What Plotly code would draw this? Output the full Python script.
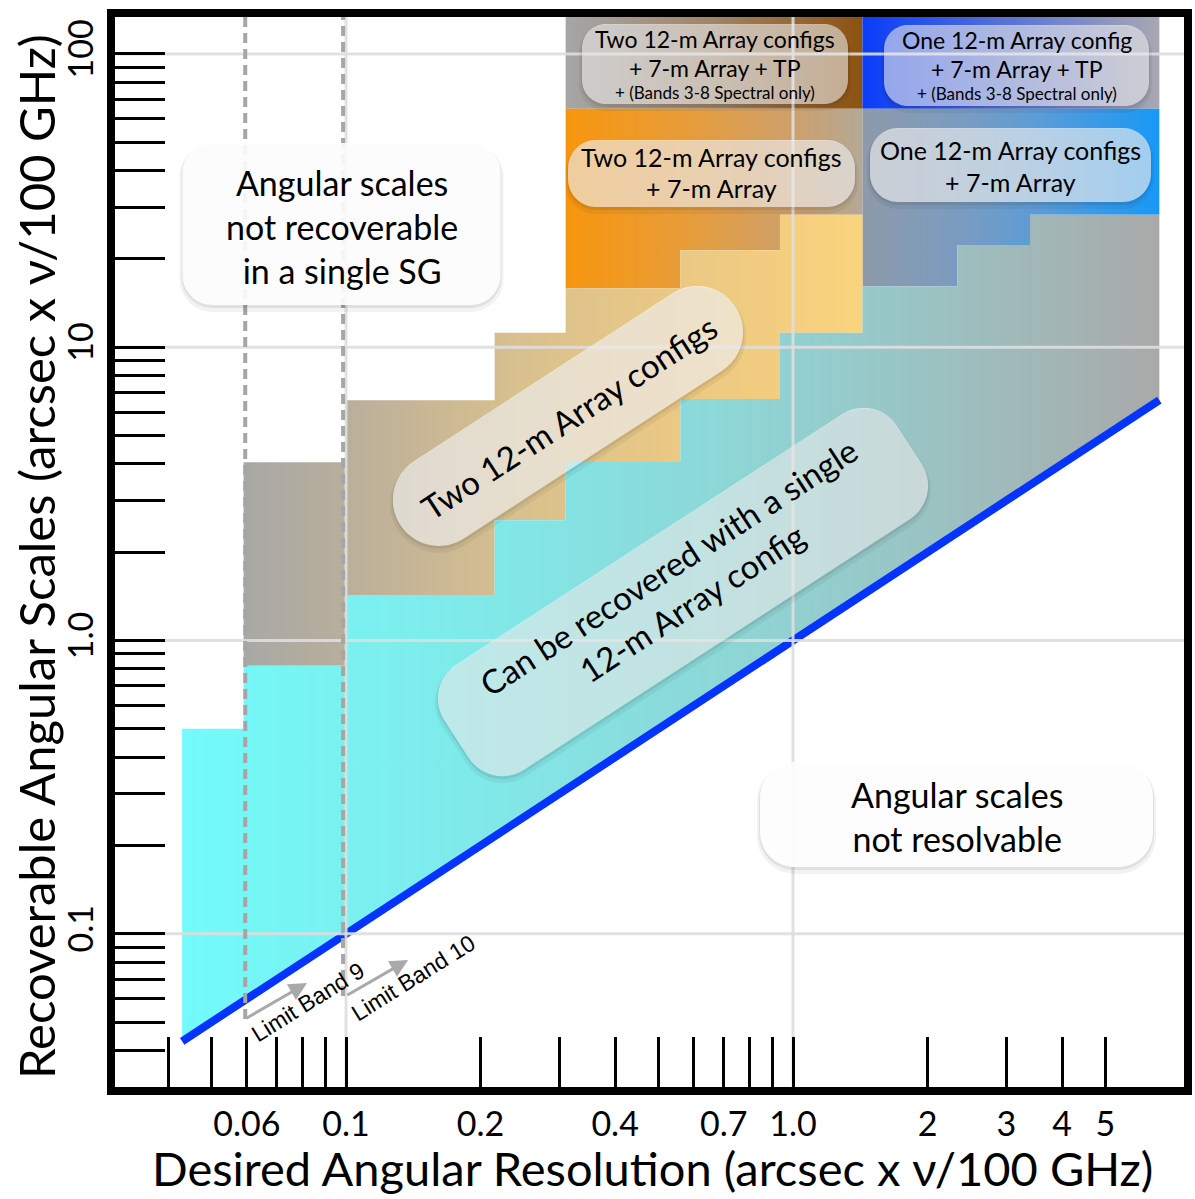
import numpy as np
import plotly.graph_objects as go

# ---------------- data ----------------
res_edges = [0.043, 0.059, 0.1, 0.215, 0.31, 0.56, 0.935, 1.43, 2.33, 3.39, 6.6]
mrs_single = [0.50, 0.82, 1.43, 2.57, 4.06, 6.66, 11.2, 16.1, 22.3, 28.3]
mrs_two = [4.05, 6.6, 11.2, 15.9, 21.4, 28.3]          # over res_edges[1:8]
mrs_7m_top = 65.0
mrs_tp_top = 200.0
limit_res = [0.043, 6.6]
limit_mrs = [0.043, 6.6]
band_limit_res = [0.0595, 0.0985]
band_limit_low = [0.0512, 0.0614]
arrow_tail_res = [0.0594, 0.100]
arrow_tail_mrs = [0.0512, 0.0614]
arrow_head_res = [0.0818, 0.1377]
arrow_head_mrs = [0.0679, 0.0814]
grid_x = [0.1, 1.0]
grid_y = [0.1, 1.0, 10.0, 100.0]
x_tickvals = [0.04, 0.05, 0.06, 0.07, 0.08, 0.09, 0.1, 0.2, 0.3, 0.4, 0.5, 0.6,
              0.7, 0.8, 0.9, 1.0, 2, 3, 4, 5]
x_ticktext = ['', '', '0.06', '', '', '', '0.1', '0.2', '', '0.4', '', '',
              '0.7', '', '', '1.0', '2', '3', '4', '5']
y_tickvals = [0.04, 0.05, 0.06, 0.07, 0.08, 0.09, 0.1, 0.2, 0.3, 0.4, 0.5, 0.6, 0.7,
              0.8, 0.9, 1, 2, 3, 4, 5, 6, 7, 8, 9, 10, 20, 30, 40, 50, 60, 70, 80, 90, 100]
y_ticktext = ['0.1' if v == 0.1 else '1.0' if v == 1 else '10' if v == 10
              else '100' if v == 100 else '' for v in y_tickvals]

# ---------------- layout geometry ----------------
W, H = 1195, 1199
ML, MR, MT, MB = 115, 11, 17, 112
PW, PH = W - ML - MR, H - MT - MB
XR = [-1.5168, 0.8747]
YR = [-1.5223, 2.1258]
FONT = "Lato"


def pp(px, py):
    return (px - ML) / PW, 1 - (py - MT) / PH


def step_line(edges, levels):
    xs, ys = [], []
    for i, v in enumerate(levels):
        xs += [edges[i], edges[i + 1]]
        ys += [v, v]
    return xs, ys


fig = go.Figure()


def region(xs, ys, cs):
    fig.add_trace(go.Scatter(x=xs, y=ys, mode='lines', fill='toself',
                             line=dict(width=0),
                             fillgradient=dict(type='horizontal', colorscale=cs),
                             hoverinfo='skip', showlegend=False))


# TP regions
e = res_edges[4:8]
region([e[0], e[-1], e[-1], e[0]], [mrs_7m_top, mrs_7m_top, mrs_tp_top, mrs_tp_top],
       [[0, '#A6A6A6'], [0.5, '#A08466'], [1, '#8C5210']])
e = res_edges[7:11]
region([e[0], e[-1], e[-1], e[0]], [mrs_7m_top, mrs_7m_top, mrs_tp_top, mrs_tp_top],
       [[0, '#0A3CF8'], [0.5, '#5A74D6'], [1, '#A8A8B2']])
# two 12-m + 7-m
e = res_edges[4:8]
bx, by = step_line(e, mrs_two[3:6])
region(bx + [e[-1], e[0]], by + [mrs_7m_top, mrs_7m_top],
       [[0, '#F7950E'], [0.4, '#E89C38'], [0.75, '#CFA06A'], [1, '#B4A896']])
# one 12-m + 7-m
e = res_edges[7:11]
bx, by = step_line(e, mrs_single[7:10])
region(bx + [e[-1], e[0]], by + [mrs_7m_top, mrs_7m_top],
       [[0, '#8E9AAA'], [0.35, '#789CC2'], [0.6, '#5A9CD8'], [1, '#1898F6']])
# two 12-m configs
e = res_edges[1:8]
bx, by = step_line(e, mrs_single[1:7])
tx, ty = step_line(e, mrs_two)
region(bx + tx[::-1], by + ty[::-1],
       [[0, '#A8A8A6'], [0.15, '#B7AE9C'], [0.3, '#C9B795'], [0.45, '#D8C18E'],
        [0.65, '#E7C786'], [0.85, '#F2CD80'], [1, '#FAD47C']])
# single 12-m config
sx, sy = step_line(res_edges, mrs_single)
region([limit_res[0], limit_res[1]] + sx[::-1], [limit_mrs[0], limit_mrs[1]] + sy[::-1],
       [[0, '#72FBFB'], [0.3, '#80E9E9'], [0.55, '#8DD7D7'], [0.72, '#98C7C7'],
        [0.88, '#A2B6B6'], [1, '#A9A9A9']])

# limit line
fig.add_trace(go.Scatter(x=limit_res, y=limit_mrs, mode='lines',
                         line=dict(color='#0533FF', width=8),
                         hoverinfo='skip', showlegend=False))
# grid lines
for gx in grid_x:
    fig.add_trace(go.Scatter(x=[gx, gx], y=[1e-3, 1e3], mode='lines',
                             line=dict(color='rgba(222,222,222,0.9)', width=3),
                             hoverinfo='skip', showlegend=False))
for gy in grid_y:
    fig.add_trace(go.Scatter(x=[1e-3, 1e3], y=[gy, gy], mode='lines',
                             line=dict(color='rgba(222,222,222,0.9)', width=3),
                             hoverinfo='skip', showlegend=False))
# band limit dashed lines
for bxv, lo in zip(band_limit_res, band_limit_low):
    fig.add_trace(go.Scatter(x=[bxv, bxv], y=[lo, mrs_tp_top], mode='lines',
                             line=dict(color='#A6A6A6', width=4, dash='10px,6px'),
                             hoverinfo='skip', showlegend=False))

# ---------------- rounded boxes ----------------
K = 0.5523


def rrect_path(cx, cy, w, h, r, ang=0.0, grow=0.0, dx=0.0, dy=0.0):
    w += 2 * grow
    h += 2 * grow
    r += grow
    a = np.deg2rad(ang)
    ca, sa = np.cos(a), np.sin(a)

    def T(u, v):
        X = cx + dx + u * ca + v * sa
        Y = cy + dy - u * sa + v * ca
        xp, yp = pp(X, Y)
        return f"{xp:.5f},{yp:.5f}"

    hw, hh = w / 2, h / 2
    k = K * r
    p = "M" + T(-hw + r, -hh)
    p += " L" + T(hw - r, -hh)
    p += " C" + T(hw - r + k, -hh) + " " + T(hw, -hh + r - k) + " " + T(hw, -hh + r)
    p += " L" + T(hw, hh - r)
    p += " C" + T(hw, hh - r + k) + " " + T(hw - r + k, hh) + " " + T(hw - r, hh)
    p += " L" + T(-hw + r, hh)
    p += " C" + T(-hw + r - k, hh) + " " + T(-hw, hh - r + k) + " " + T(-hw, hh - r)
    p += " L" + T(-hw, -hh + r)
    p += " C" + T(-hw, -hh + r - k) + " " + T(-hw + r - k, -hh) + " " + T(-hw + r, -hh)
    p += " Z"
    return p


boxes = [
    # cx, cy, w, h, r, angle, alpha
    (341.5, 224, 318, 162, 30, 0, 0.90),
    (956.5, 814.5, 393, 105, 35, 0, 0.92),
    (715, 64, 266, 80, 24, 0, 0.55),
    (1016.5, 65.5, 265, 81, 24, 0, 0.55),
    (711.5, 173.5, 287, 67, 28, 0, 0.60),
    (1010.5, 165, 281, 74, 28, 0, 0.60),
    (568, 416, 400, 92, 46, 33, 0.62),
    (683, 592, 540, 125, 40, 33, 0.55),
]
shapes = []
for cx, cy, w, h, r, ang, al in boxes:
    shapes.append(dict(type='path', xref='paper', yref='paper', layer='above',
                       path=rrect_path(cx, cy, w, h, r, ang, grow=3, dy=4),
                       fillcolor='rgba(0,0,0,0.05)', line=dict(width=0)))
    shapes.append(dict(type='path', xref='paper', yref='paper', layer='above',
                       path=rrect_path(cx, cy, w, h, r, ang, grow=1, dy=2),
                       fillcolor='rgba(0,0,0,0.07)', line=dict(width=0)))
    shapes.append(dict(type='path', xref='paper', yref='paper', layer='above',
                       path=rrect_path(cx, cy, w, h, r, ang),
                       fillcolor=f'rgba(255,255,255,{al})', line=dict(width=0)))

annotations = []


def txt(px, py, text, size, angle=0, family=FONT):
    xp, yp = pp(px, py)
    annotations.append(dict(x=xp, y=yp, xref='paper', yref='paper', text=text,
                            showarrow=False, textangle=angle, xanchor='center',
                            yanchor='middle', font=dict(family=family, size=size,
                                                        color='black')))


txt(341.5, 226, "Angular scales<br>not recoverable<br>in a single SG", 34)
txt(956.5, 816, "Angular scales<br>not resolvable", 34)
txt(715, 39, "Two 12-m Array configs", 23)
txt(715, 68, "+ 7-m Array + TP", 23)
txt(715, 93, "+ (Bands 3-8 Spectral only)", 17)
txt(1017, 40, "One 12-m Array config", 23)
txt(1017, 69, "+ 7-m Array + TP", 23)
txt(1017, 94, "+ (Bands 3-8 Spectral only)", 17)
txt(711, 157, "Two 12-m Array configs", 25)
txt(711, 188, "+ 7-m Array", 25)
txt(1010, 150, "One 12-m Array configs", 25)
txt(1010, 182, "+ 7-m Array", 25)
txt(569, 417, "Two 12-m Array configs", 33, angle=-33)
txt(680, 584, "Can be recovered with a single<br>12-m Array config", 33, angle=-33)
txt(308, 1002, "Limit Band 9", 23, angle=-32, family="Liberation Sans")
txt(413, 978, "Limit Band 10", 23, angle=-32, family="Liberation Sans")
# axis titles
txt(652, 1168, "Desired Angular Resolution (arcsec x ν/100 GHz)", 47)
txt(36, 557, "Recoverable Angular Scales (arcsec x ν/100 GHz)", 49, angle=-90)

# arrows
for tr, tm, hr, hm in zip(arrow_tail_res, arrow_tail_mrs, arrow_head_res, arrow_head_mrs):
    annotations.append(dict(x=np.log10(hr), y=np.log10(hm), xref='x', yref='y',
                            ax=np.log10(tr), ay=np.log10(tm), axref='x', ayref='y',
                            text='', showarrow=True, arrowhead=2, arrowsize=1.2,
                            arrowwidth=3, arrowcolor='#A9A9A9'))

axis_common = dict(type='log', showline=True, linewidth=8, linecolor='black',
                   mirror=True, ticks='inside', ticklen=50, tickwidth=3,
                   tickcolor='black', showgrid=False, zeroline=False,
                   tickmode='array', automargin=False,
                   tickfont=dict(family=FONT, size=34, color='black'))

fig.update_layout(
    width=W, height=H, autosize=False,
    margin=dict(l=ML, r=MR, t=MT, b=MB, pad=0, autoexpand=False),
    paper_bgcolor='white', plot_bgcolor='white',
    xaxis=dict(range=XR, tickvals=x_tickvals, ticktext=x_ticktext, **axis_common),
    yaxis=dict(range=YR, tickvals=y_tickvals, ticktext=y_ticktext, tickangle=-90,
               **axis_common),
    shapes=shapes, annotations=annotations, showlegend=False,
)

fig.write_html("out.html", config={'displayModeBar': False},
               post_script="document.body.style.margin='0';"
                           "document.body.style.overflow='hidden';")
